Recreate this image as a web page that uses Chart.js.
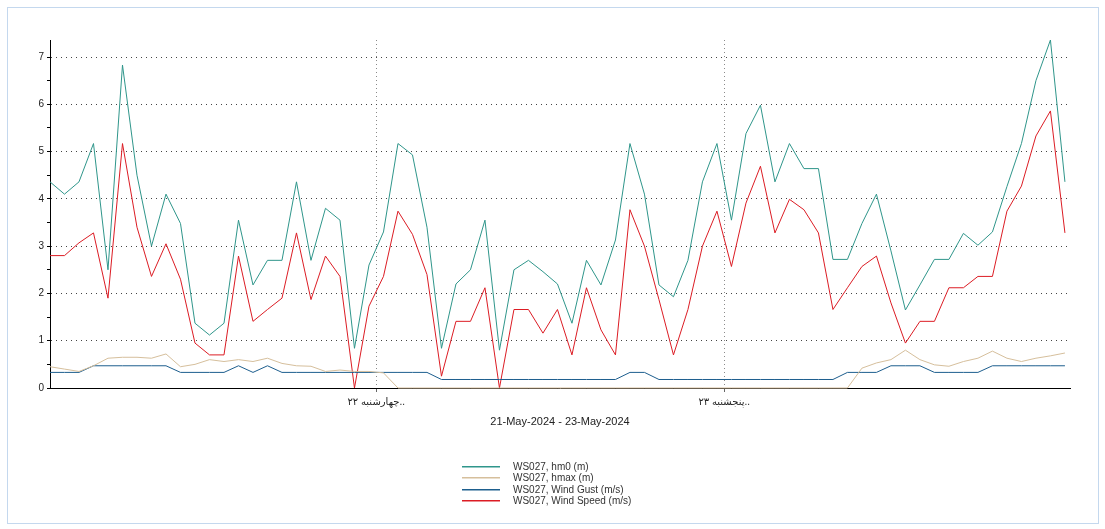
<!DOCTYPE html>
<html>
<head>
<meta charset="utf-8">
<script src="https://cdn.jsdelivr.net/npm/chart.js@4"></script>
<style>
  html, body { margin: 0; padding: 0; background: #fff; }
</style>
</head>
<body>
<canvas id="c" width="1105" height="529"></canvas>
<script>
// WS027 — hourly readings, 21-May-2024 01:30 .. 23-May-2024 23:30
const firstHour = 1.5; // hours after 21-May-2024 00:00

const hm0 = [
  4.36, 4.1, 4.36, 5.17, 2.5, 6.83, 4.5, 3.0, 4.1, 3.48,
  1.37, 1.12, 1.37, 3.55, 2.18, 2.7, 2.7, 4.36, 2.7, 3.8,
  3.55, 0.84, 2.6, 3.3, 5.17, 4.93, 3.4, 0.84, 2.2, 2.5,
  3.55, 0.8, 2.5, 2.7, 2.46, 2.2, 1.37, 2.7, 2.18, 3.13,
  5.17, 4.1, 2.18, 1.93, 2.7, 4.36, 5.17, 3.55, 5.38, 5.98,
  4.36, 5.17, 4.64, 4.64, 2.72, 2.72, 3.48, 4.1, 2.9, 1.65,
  2.18, 2.72, 2.72, 3.27, 3.02, 3.3, 4.26, 5.17, 6.5, 7.36, 4.36,
];
const hmax = [
  0.45, 0.4, 0.35, 0.47, 0.63, 0.65, 0.65, 0.63, 0.72, 0.45,
  0.5, 0.6, 0.56, 0.6, 0.56, 0.63, 0.52, 0.47, 0.46, 0.35,
  0.38, 0.35, 0.35, 0.32, 0, 0, 0, 0, 0, 0,
  0, 0, 0, 0, 0, 0, 0, 0, 0, 0,
  0, 0, 0, 0, 0, 0, 0, 0, 0, 0,
  0, 0, 0, 0, 0, 0, 0.42, 0.53, 0.6, 0.8,
  0.6, 0.49, 0.46, 0.56, 0.63, 0.78, 0.63, 0.56, 0.63, 0.68, 0.74,
];
const windGust = [
  0.33, 0.33, 0.33, 0.47, 0.47, 0.47, 0.47, 0.47, 0.47, 0.33,
  0.33, 0.33, 0.33, 0.47, 0.33, 0.47, 0.33, 0.33, 0.33, 0.33,
  0.33, 0.33, 0.33, 0.33, 0.33, 0.33, 0.33, 0.18, 0.18, 0.18,
  0.18, 0.18, 0.18, 0.18, 0.18, 0.18, 0.18, 0.18, 0.18, 0.18,
  0.33, 0.33, 0.18, 0.18, 0.18, 0.18, 0.18, 0.18, 0.18, 0.18,
  0.18, 0.18, 0.18, 0.18, 0.18, 0.33, 0.33, 0.33, 0.47, 0.47,
  0.47, 0.33, 0.33, 0.33, 0.33, 0.47, 0.47, 0.47, 0.47, 0.47, 0.47,
];
const windSpeed = [
  2.8, 2.8, 3.07, 3.28, 1.9, 5.17, 3.4, 2.36, 3.05, 2.3,
  0.95, 0.7, 0.7, 2.79, 1.41, 1.66, 1.9, 3.28, 1.87, 2.79,
  2.36, 0, 1.73, 2.36, 3.74, 3.25, 2.4, 0.25, 1.41, 1.41,
  2.12, 0, 1.66, 1.66, 1.16, 1.66, 0.7, 2.12, 1.23, 0.7,
  3.77, 3.0, 1.87, 0.7, 1.66, 3.0, 3.74, 2.57, 3.91, 4.69,
  3.28, 3.99, 3.77, 3.28, 1.66, 2.12, 2.57, 2.79, 1.8, 0.95,
  1.41, 1.41, 2.12, 2.12, 2.36, 2.36, 3.74, 4.27, 5.33, 5.86, 3.28,
];

const dayTicks = [24, 48];
const dayLabels = ['چهارشنبه ۲۲..', 'پنجشنبه ۲۳..'];
const xTitle = '21-May-2024 - 23-May-2024';

const seriesLabels = ['WS027, hm0 (m)', 'WS027, hmax (m)', 'WS027, Wind Gust (m/s)', 'WS027, Wind Speed (m/s)'];
const seriesValues = [hm0, hmax, windGust, windSpeed];
const seriesColors = ['#2f968b', '#d6bf9c', '#1d5e8e', '#dc1c24'];

const FONT = '"Liberation Sans", Arial, "DejaVu Sans", sans-serif';

// light blue frame round the whole picture
const frame = {
  id: 'frame',
  beforeDraw(chart) {
    const { ctx } = chart;
    ctx.save();
    ctx.fillStyle = '#fff';
    ctx.fillRect(0, 0, chart.width, chart.height);
    ctx.strokeStyle = '#c4d8ee';
    ctx.lineWidth = 1;
    ctx.strokeRect(7.5, 7.5, 1091, 516);
    ctx.restore();
  },
};

// stacked legend under the x title
const legendBox = {
  id: 'legendBox',
  afterDraw(chart) {
    const { ctx } = chart;
    ctx.save();
    ctx.font = '10px ' + FONT;
    ctx.textBaseline = 'middle';
    seriesLabels.forEach((label, i) => {
      const y = 467 + i * 11.4;
      ctx.fillStyle = seriesColors[i];
      ctx.fillRect(462, Math.round(y) - 1, 38, 1.5);
      ctx.fillStyle = '#333';
      ctx.fillText(label, 513, y);
    });
    ctx.restore();
  },
};

new Chart(document.getElementById('c'), {
  type: 'line',
  data: {
    datasets: seriesLabels.map((label, k) => ({
      label,
      data: seriesValues[k].map((v, i) => ({ x: firstHour + i, y: v })),
      borderColor: seriesColors[k],
      backgroundColor: seriesColors[k],
      borderWidth: 1,
      pointRadius: 0,
      tension: 0,
      fill: false,
      clip: false,
    })),
  },
  options: {
    responsive: false,
    animation: false,
    layout: { padding: { left: 0, right: 35, top: 40, bottom: 100 } },
    plugins: { legend: { display: false }, tooltip: { enabled: false } },
    scales: {
      x: {
        type: 'linear',
        min: firstHour,
        max: 71.85,
        afterBuildTicks: (s) => { s.ticks = dayTicks.map(v => ({ value: v })); },
        afterFit: (s) => { s.height = 41; },
        ticks: {
          autoSkip: false,
          maxRotation: 0,
          padding: 4,
          color: '#222',
          font: { family: FONT, size: 10 },
          callback: (v) => dayLabels[dayTicks.indexOf(v)] ?? '',
        },
        grid: { color: '#8a8a8a', tickColor: '#666', tickLength: 4 },
        border: { color: '#000', width: 1, dash: [1, 3] },
        title: {
          display: true,
          text: xTitle,
          color: '#222',
          font: { family: FONT, size: 11 },
          padding: { top: 0, bottom: 0 },
        },
      },
      y: {
        min: 0,
        max: 7.36,
        afterFit: (s) => { s.width = 50; },
        ticks: {
          stepSize: 0.5,
          includeBounds: false,
          padding: 3,
          color: '#222',
          font: { family: FONT, size: 10 },
          callback: (v) => (Number.isInteger(v) ? v : ''),
        },
        grid: {
          color: (c) => (Number.isInteger(c.tick.value) ? '#444' : 'rgba(0,0,0,0)'),
          tickColor: '#000',
          tickLength: 3,
        },
        border: { color: '#000', width: 1, dash: [1, 4] },
      },
    },
  },
  plugins: [frame, legendBox],
});
</script>
</body>
</html>
